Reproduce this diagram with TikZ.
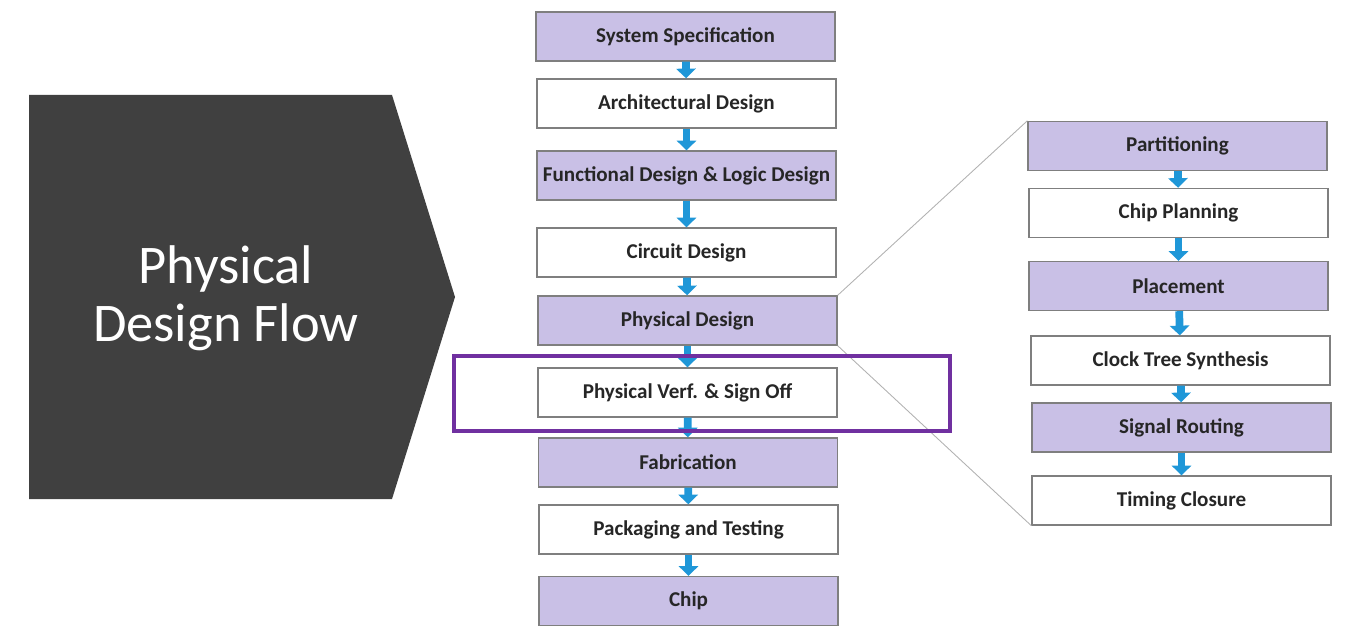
\documentclass[tikz,border=0pt]{standalone}
\usepackage{fontspec}
\setmainfont{Carlito}
\usepackage{tikz}
\usetikzlibrary{arrows.meta,positioning}
\definecolor{Lilac}{HTML}{C9C0E6}
\definecolor{Frame}{HTML}{7F7F7F}
\definecolor{Flow}{HTML}{1F97D8}
\definecolor{Violet}{HTML}{7030A0}
\definecolor{Slate}{HTML}{404040}
\definecolor{Ink}{HTML}{262626}

\begin{document}
\begin{tikzpicture}[x=0.02cm,y=-0.02cm,
      stage/.style={draw=Frame,line width=0.8pt,fill=white,minimum width=5.98cm,
        minimum height=0.98cm,inner sep=0pt,text=Ink,
        font=\fontsize{12}{13}\selectfont\bfseries},
      shaded/.style={stage,fill=Lilac},
      flow/.style={-{Triangle[length=5.5pt,width=11pt]},line width=4.4pt,Flow},
      zoomline/.style={draw=gray!60,line width=0.5pt},
      highlight/.style={draw=Violet,line width=0.08cm,minimum width=9.94cm,
        minimum height=1.52cm,inner sep=0pt}
    ]
      \useasboundingbox (0,0) rectangle (1345,638);
      % left banner
      \fill[Slate] (29,95) -- (392,95) -- (455,297) -- (392,499) -- (29,499) -- cycle;
      \node[text=white,align=center,font=\fontsize{31}{33}\selectfont] (title)
        at (226,298) {Physical\\Design Flow};
      % main flow
      \node[shaded] (spec) at (685.5,36.5) {System Specification};
      \node[stage] (arch) at (686.5,103.5) {Architectural Design};
      \node[shaded] (func) at (686.5,175.5) {Functional Design \& Logic Design};
      \node[stage] (circ) at (686.5,252.5) {Circuit Design};
      \node[shaded] (phys) at (687.5,320.5) {Physical Design};
      \node[stage] (verf) at (687.5,392.5) {Physical Verf. \& Sign Off};
      \node[shaded] (fab) at (688,462.5) {Fabrication};
      \node[stage] (pack) at (688.5,529.5) {Packaging and Testing};
      \node[shaded] (chip) at (688.5,601) {Chip};
      \draw[flow] (spec) -- (arch);
      \draw[flow] (arch) -- (func);
      \draw[flow] (func) -- (circ);
      \draw[flow] (circ) -- (phys);
      \draw[flow] (phys) -- (verf);
      \draw[flow] (verf) -- (fab);
      \draw[flow] (fab) -- (pack);
      \draw[flow] (pack) -- (chip);
      % physical design steps
      \node[shaded] (part) at (1177.5,146) {Partitioning};
      \node[stage] (plan) at (1178.5,213) {Chip Planning};
      \node[shaded] (place) at (1178.5,286) {Placement};
      \node[stage] (cts) at (1180.5,360.5) {Clock Tree Synthesis};
      \node[shaded] (route) at (1181.5,427.5) {Signal Routing};
      \node[stage] (timing) at (1181.5,500.5) {Timing Closure};
      \draw[flow] (part) -- (plan);
      \draw[flow] (plan) -- (place);
      \draw[flow] (place) -- (cts);
      \draw[flow] (cts) -- (route);
      \draw[flow] (route) -- (timing);
      \draw[zoomline] (phys.north east) -- (part.north west);
      \draw[zoomline] (phys.south east) -- (timing.south west);
      % highlighted stage
      \node[highlight] (focus) at (702,393.5) {};
    \end{tikzpicture}
\end{document}
